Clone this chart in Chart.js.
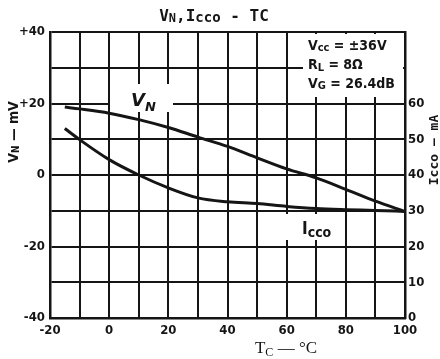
<!DOCTYPE html>
<html>
<head>
<meta charset="utf-8">
<script src="https://cdn.jsdelivr.net/npm/chart.js@4/dist/chart.umd.min.js"></script>
<style>
  html, body { margin: 0; padding: 0; background: #fff; }
  #wrap { width: 440px; height: 359px; position: relative; }
</style>
</head>
<body>
<div id="wrap"><canvas id="chart"></canvas></div>
<script>
// VN, Icco - TC

// Dati
const temps = [-15, -10, 0, 10, 20, 30, 40, 50, 60, 70, 80, 90, 100];
const vnValues = [19, 18.5, 17.3, 15.5, 13.3, 10.6, 8, 4.8, 1.7, -0.8, -4, -7.3, -10.2];
const iccoValues = [53, 49.9, 44.3, 40, 36.4, 33.6, 32.5, 32, 31.2, 30.6, 30.3, 30.1, 29.8];

const xTicks = [-20, 0, 20, 40, 60, 80, 100];
const vnTicks = [-40, -20, 0, 20, 40];
const iccoTicks = [0, 10, 20, 30, 40, 50, 60];

const ink = '#151515';
const tickFont = { family: 'DejaVu Sans Condensed', size: 13, weight: 'bold' };

// Testo con pezzi di font diversi (pedici)
function drawRuns(ctx, x, y, runs, align) {
    let total = 0;
    runs.forEach(r => { ctx.font = r.font; total += ctx.measureText(r.text).width; });
    let cx = align === 'center' ? x - total / 2 : x;
    runs.forEach(r => {
        ctx.font = r.font;
        ctx.fillText(r.text, cx, y + (r.dy || 0));
        cx += ctx.measureText(r.text).width;
    });
}

const labelsPlugin = {
    id: 'labels',
    beforeDatasetsDraw(chart) {
        const ctx = chart.ctx;
        ctx.save();
        ctx.fillStyle = '#fff';
        // fondi bianchi dietro le etichette
        ctx.fillRect(110, 84, 63, 28);
        ctx.fillRect(285, 214, 60, 26);
        ctx.fillRect(303, 34, 100, 63);
        ctx.restore();
    },
    afterDraw(chart) {
        const ctx = chart.ctx;
        ctx.save();
        ctx.fillStyle = ink;
        ctx.textBaseline = 'alphabetic';
        ctx.textAlign = 'left';

        // titolo
        drawRuns(ctx, 214, 21, [
            { text: 'V', font: 'bold 16px "DejaVu Sans Mono"' },
            { text: 'N', font: 'bold 12px "DejaVu Sans Mono"', dy: 1 },
            { text: ',I', font: 'bold 16px "DejaVu Sans Mono"' },
            { text: 'cco', font: 'bold 14px "DejaVu Sans Mono"', dy: 1 },
            { text: ' - TC', font: 'bold 16px "DejaVu Sans Mono"' }
        ], 'center');

        // condizioni
        const cond = 'bold 14px "DejaVu Sans Condensed"';
        const sub = 'bold 11px "DejaVu Sans Condensed"';
        drawRuns(ctx, 308, 50, [
            { text: 'V', font: cond }, { text: 'cc', font: sub, dy: 1 }, { text: ' = ±36V', font: cond }
        ]);
        drawRuns(ctx, 308, 69, [
            { text: 'R', font: cond }, { text: 'L', font: sub, dy: 2 }, { text: ' = 8Ω', font: cond }
        ]);
        drawRuns(ctx, 308, 88, [
            { text: 'V', font: cond }, { text: 'G', font: sub, dy: 1 }, { text: ' = 26.4dB', font: cond }
        ]);

        // etichette curve
        drawRuns(ctx, 131, 106, [
            { text: 'V', font: 'italic bold 18px "DejaVu Sans"' },
            { text: 'N', font: 'italic bold 13px "DejaVu Sans"', dy: 5 }
        ]);
        drawRuns(ctx, 302, 234, [
            { text: 'I', font: 'bold 17px "DejaVu Sans Condensed"' },
            { text: 'cco', font: 'bold 14px "DejaVu Sans Condensed"', dy: 3 }
        ]);

        // titolo asse x
        drawRuns(ctx, 286, 353, [
            { text: 'T', font: '17px "Liberation Serif"' },
            { text: 'C', font: '12px "Liberation Serif"', dy: 3 },
            { text: ' — °C', font: '17px "Liberation Serif"' }
        ], 'center');

        // titolo asse sinistro
        ctx.save();
        ctx.translate(18, 132);
        ctx.rotate(-Math.PI / 2);
        drawRuns(ctx, 0, 0, [
            { text: 'V', font: 'bold 14px "DejaVu Sans Condensed"' },
            { text: 'N', font: 'bold 10px "DejaVu Sans Condensed"', dy: 1 },
            { text: ' — mV', font: 'bold 14px "DejaVu Sans Condensed"' }
        ], 'center');
        ctx.restore();

        // titolo asse destro
        ctx.save();
        ctx.translate(438, 150);
        ctx.rotate(-Math.PI / 2);
        drawRuns(ctx, 0, 0, [
            { text: 'Icco — mA', font: 'bold 13px "DejaVu Sans Mono"' }
        ], 'center');
        ctx.restore();

        ctx.restore();
    }
};

const gridStyle = { color: ink, lineWidth: 2, drawTicks: false };
const borderStyle = { color: ink, width: 2.5 };

new Chart(document.getElementById('chart'), {
    type: 'line',
    data: {
        datasets: [
            {
                label: 'VN',
                data: temps.map((t, i) => ({ x: t, y: vnValues[i] })),
                yAxisID: 'y',
                borderColor: ink,
                borderWidth: 3,
                pointRadius: 0,
                cubicInterpolationMode: 'monotone'
            },
            {
                label: 'Icco',
                data: temps.map((t, i) => ({ x: t, y: iccoValues[i] })),
                yAxisID: 'y2',
                borderColor: ink,
                borderWidth: 3,
                pointRadius: 0,
                cubicInterpolationMode: 'monotone'
            }
        ]
    },
    options: {
        responsive: true,
        maintainAspectRatio: false,
        animation: false,
        layout: { padding: { top: 32, left: 0, right: 0, bottom: 0 } },
        plugins: { legend: { display: false }, tooltip: { enabled: false } },
        scales: {
            x: {
                type: 'linear',
                min: -20, max: 100,
                grid: gridStyle,
                border: borderStyle,
                afterFit: s => { s.height = 41; },
                ticks: {
                    stepSize: 10,
                    padding: 5,
                    color: ink,
                    font: tickFont,
                    maxRotation: 0,
                    callback: v => xTicks.includes(v) ? v : ''
                }
            },
            y: {
                position: 'left',
                min: -40, max: 40,
                grid: gridStyle,
                border: borderStyle,
                afterFit: s => { s.width = 50; },
                ticks: {
                    stepSize: 10,
                    padding: 5,
                    color: ink,
                    font: tickFont,
                    callback: v => vnTicks.includes(v) ? (v > 0 ? '+' + v : v) : ''
                }
            },
            y2: {
                position: 'right',
                min: 0, max: 80,
                grid: { drawOnChartArea: false, drawTicks: false },
                border: borderStyle,
                afterFit: s => { s.width = 35; },
                ticks: {
                    stepSize: 10,
                    padding: 3,
                    color: ink,
                    font: tickFont,
                    callback: v => iccoTicks.includes(v) ? v : ''
                }
            }
        }
    },
    plugins: [labelsPlugin]
});
</script>
</body>
</html>
